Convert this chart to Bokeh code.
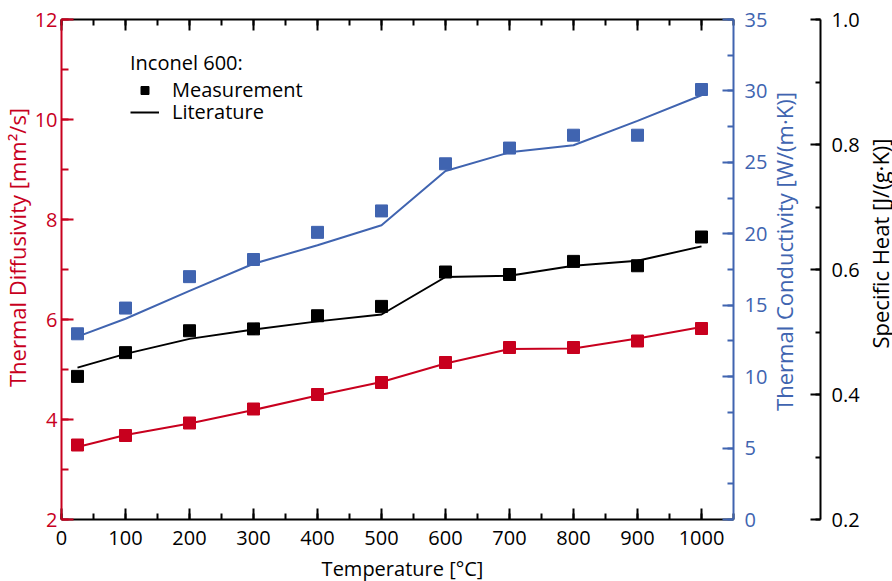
import math
from bokeh.plotting import figure
from bokeh.models import (Range1d, LinearAxis, FixedTicker, Legend, LegendItem, Label,
                          NumeralTickFormatter, SingleIntervalTicker, CustomJSTickFormatter,
                          ColumnDataSource)
from bokeh.embed import file_html
from bokeh.resources import INLINE

# ---------------- data ----------------
temps = [25, 100, 200, 300, 400, 500, 600, 700, 800, 900, 1000]
diff_meas = [3.49, 3.68, 3.93, 4.21, 4.50, 4.74, 5.14, 5.44, 5.44, 5.57, 5.82]
diff_lit = [3.45, 3.69, 3.92, 4.19, 4.48, 4.75, 5.12, 5.41, 5.42, 5.62, 5.85]
cond_meas = [13.0, 14.8, 17.0, 18.2, 20.1, 21.6, 24.9, 26.0, 26.9, 26.9, 30.1]
cond_lit = [12.8, 14.05, 16.0, 17.9, 19.2, 20.6, 24.4, 25.7, 26.2, 27.9, 29.7]
cp_meas = [0.429, 0.467, 0.502, 0.505, 0.526, 0.541, 0.596, 0.592, 0.613, 0.606, 0.652]
cp_lit = [0.443, 0.465, 0.489, 0.504, 0.517, 0.528, 0.588, 0.590, 0.606, 0.614, 0.637]

x_title = "Temperature [°C]"
left_title = "Thermal Diffusivity [mm²/s]"
cond_title = "Thermal Conductivity [W/(m·K)]"
cp_title = "Specific Heat [J/(g·K)]"
legend_title = "Inconel 600:"
legend_labels = ["Measurement", "Literature"]

RED = "#C8001E"
BLUE = "#4064B0"
BLACK = "#000000"
FONT = "Open Sans"
TICK_FS = "20px"

p = figure(width=892, height=581, output_backend="svg", toolbar_location=None,
           x_range=Range1d(0, 1050), y_range=Range1d(2, 12),
           min_border_left=61, min_border_right=159, min_border_top=19, min_border_bottom=62)
p.outline_line_color = None
p.xgrid.visible = False
p.ygrid.visible = False
p.extra_y_ranges = {"cond": Range1d(0, 35), "cp": Range1d(0.2, 1.0)}


def style_axis(ax, color, tick_in=11, minor_in=6):
    ax.axis_line_color = color
    ax.axis_line_width = 2
    ax.major_tick_line_color = color
    ax.minor_tick_line_color = color
    ax.major_tick_line_width = 2
    ax.minor_tick_line_width = 2
    ax.major_tick_in = tick_in
    ax.major_tick_out = 0
    ax.minor_tick_in = minor_in
    ax.minor_tick_out = 0
    ax.major_label_text_color = color
    ax.major_label_text_font = FONT
    ax.major_label_text_font_size = TICK_FS


def title_label(text, x, y, color, size, angle=0.0):
    return Label(text=text, x=x, y=y, x_units="screen", y_units="screen",
                 angle=angle, text_align="center", text_baseline="middle",
                 text_color=color, text_font=FONT, text_font_size=size)


# bottom x axis
xax = p.xaxis[0]
xax.ticker = SingleIntervalTicker(interval=100, num_minor_ticks=2)
style_axis(xax, BLACK)
xax.major_label_standoff = 11
p.add_layout(title_label(x_title, 341, 6, BLACK, "20px"), "below")

# top x axis (ticks only)
tax = LinearAxis(ticker=SingleIntervalTicker(interval=100, num_minor_ticks=2),
                 formatter=CustomJSTickFormatter(code="return ''"))
style_axis(tax, BLACK)
tax.major_label_text_font_size = "0px"
tax.major_label_standoff = 0
p.add_layout(tax, "above")

# left axis: thermal diffusivity
lax = p.yaxis[0]
lax.ticker = SingleIntervalTicker(interval=2, num_minor_ticks=2)
style_axis(lax, RED, tick_in=12, minor_in=7)
lax.major_label_standoff = 4
p.add_layout(title_label(left_title, 15, 272, RED, "22px", math.pi / 2), "left")

# right axis 1: thermal conductivity
bax = LinearAxis(y_range_name="cond", ticker=SingleIntervalTicker(interval=5, num_minor_ticks=2))
style_axis(bax, BLUE)
bax.major_label_standoff = 11
p.add_layout(bax, "right")
p.add_layout(title_label(cond_title, 13, 268, BLUE, "22px", math.pi / 2), "right")

# spacer between the two right axes (invisible ticks only)
sax = LinearAxis(y_range_name="cp", ticker=FixedTicker(ticks=[0.5], minor_ticks=[]),
                 formatter=CustomJSTickFormatter(code="return ''"))
sax.axis_line_alpha = 0
sax.major_tick_line_alpha = 0
sax.minor_tick_line_alpha = 0
sax.major_tick_out = 20
sax.major_tick_in = 0
sax.minor_tick_out = 0
sax.minor_tick_in = 0
sax.major_label_text_font_size = "0px"
sax.major_label_standoff = 0
p.add_layout(sax, "right")

# right axis 2: specific heat
kax = LinearAxis(y_range_name="cp", ticker=SingleIntervalTicker(interval=0.2, num_minor_ticks=2),
                 formatter=NumeralTickFormatter(format="0.0"))
style_axis(kax, BLACK, tick_in=10, minor_in=5)
kax.major_label_standoff = 11
p.add_layout(kax, "right")
p.add_layout(title_label(cp_title, 17, 276, BLACK, "22px", math.pi / 2), "right")

# ---------------- series ----------------
p.line(temps, cond_lit, color=BLUE, line_width=2, y_range_name="cond")
p.scatter(temps, cond_meas, marker="square", size=12, color=BLUE, y_range_name="cond")
p.line(temps, cp_lit, color=BLACK, line_width=2, y_range_name="cp")
p.scatter(temps, cp_meas, marker="square", size=12, color=BLACK, y_range_name="cp")
p.line(temps, diff_lit, color=RED, line_width=2)
p.scatter(temps, diff_meas, marker="square", size=12, color=RED)

# legend with black sample glyphs (renderers hold no visible data)
leg_src = ColumnDataSource(data=dict(x=[float("nan")], y=[float("nan")]))
r_sq = p.scatter("x", "y", source=leg_src, marker="square", size=12, color=BLACK)
r_ln = p.line("x", "y", source=leg_src, color=BLACK, line_width=2)

leg_style = dict(border_line_color=None, background_fill_alpha=0,
                 padding=0, margin=0, glyph_width=29, glyph_height=20,
                 label_standoff=13, spacing=0,
                 label_text_font=FONT, label_text_font_size="20px", label_text_color=BLACK)
legend1 = Legend(items=[LegendItem(label=legend_labels[0], renderers=[r_sq])],
                 title=legend_title, location=(69, 416), title_standoff=0,
                 title_text_font=FONT, title_text_font_size="20px", title_text_color=BLACK,
                 title_text_font_style="normal", **leg_style)
legend2 = Legend(items=[LegendItem(label=legend_labels[1], renderers=[r_ln])],
                 location=(69, 394), **leg_style)
p.add_layout(legend1)
p.add_layout(legend2)

open("out.html", "w").write(file_html(p, INLINE))
